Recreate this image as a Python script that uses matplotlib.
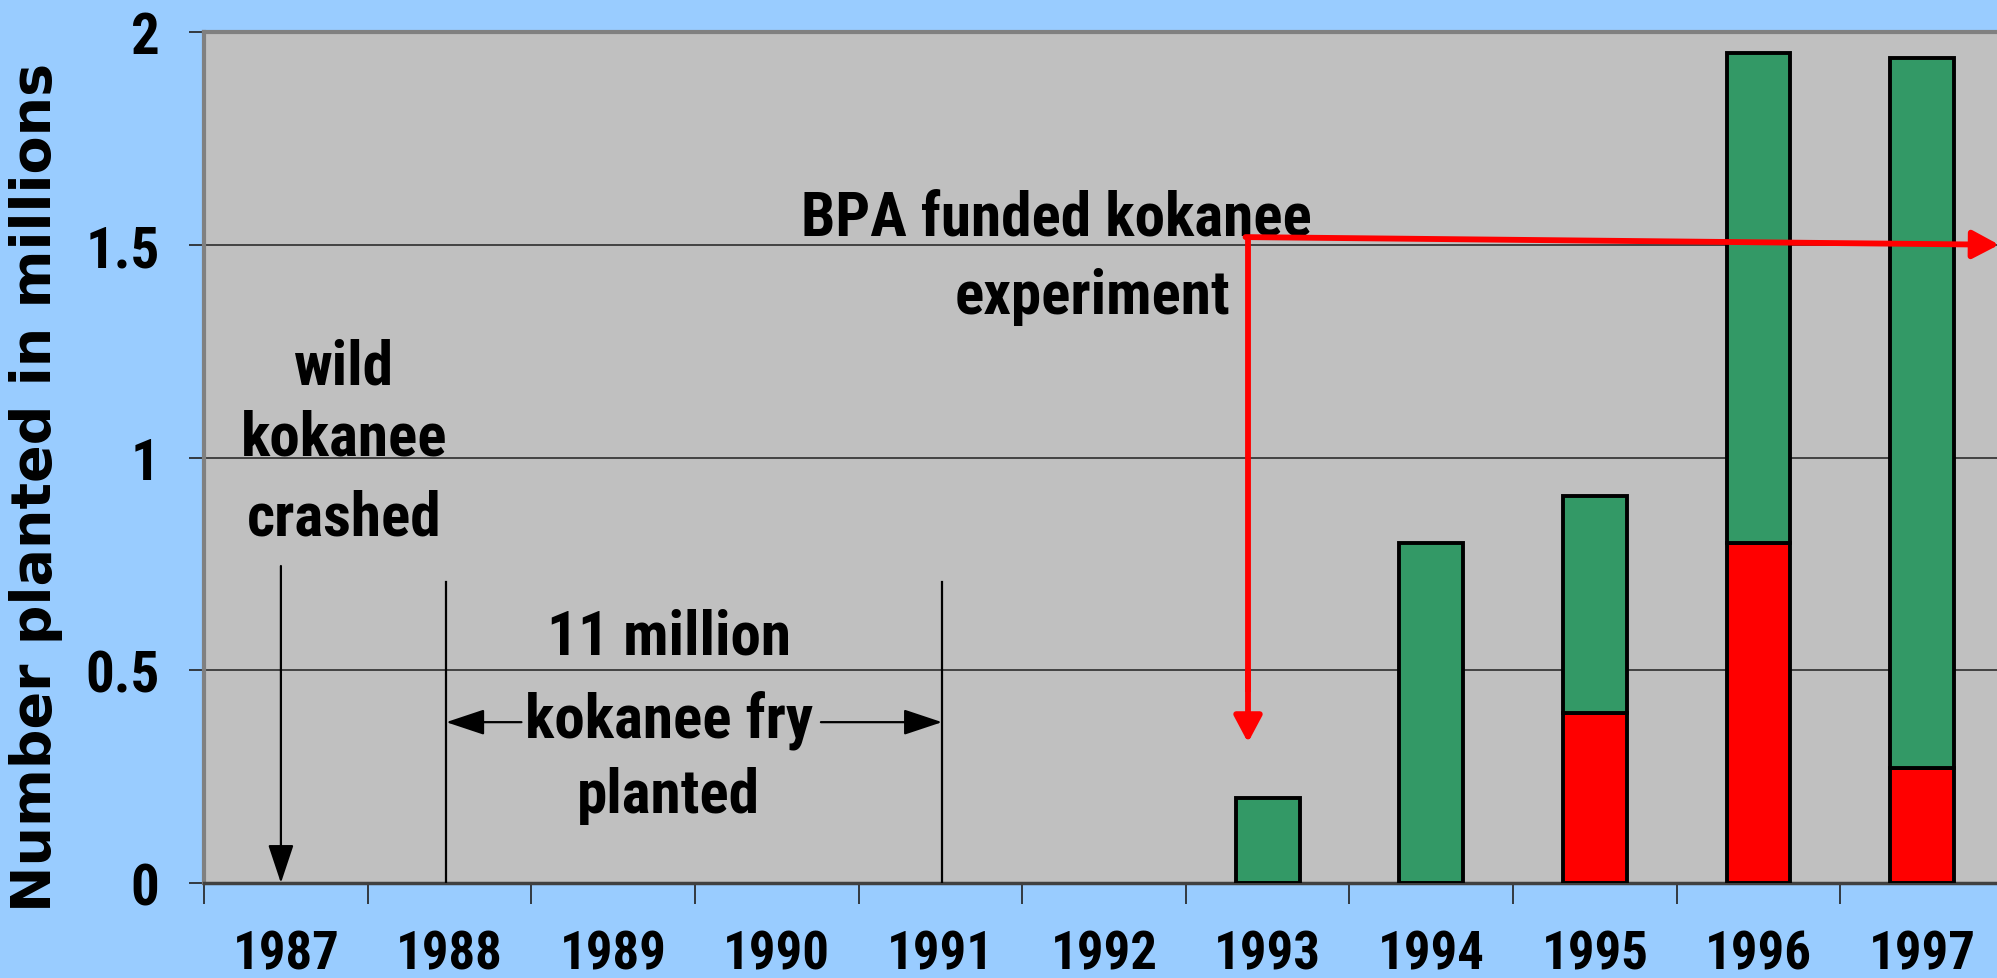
import matplotlib
matplotlib.use("Agg")
import matplotlib.pyplot as plt
import numpy as np

years = ['1987', '1988', '1989', '1990', '1991', '1992', '1993', '1994', '1995', '1996', '1997']
red_vals = [0, 0, 0, 0, 0, 0, 0, 0, 0.40, 0.80, 0.27]
green_vals = [0, 0, 0, 0, 0, 0, 0.20, 0.80, 0.51, 1.15, 1.67]
yticks = [0, 0.5, 1, 1.5, 2]
ytick_labels = ['0', '0.5', '1', '1.5', '2']

NARROW = ['Roboto Condensed', 'PT Sans Narrow', 'Liberation Sans', 'DejaVu Sans']
WIDE = ['DejaVu Sans']

W, H = 1997, 979
fig = plt.figure(figsize=(W / 100, H / 100), dpi=100, facecolor='#99CCFF')
ax = fig.add_axes([204 / W, (979 - 884) / H, 1800 / W, (884 - 33) / H])
ax.set_facecolor('#C0C0C0')

x = np.arange(len(years))
red = np.array(red_vals)
green = np.array(green_vals)
bw = 0.39
mr = red > 0
ax.bar(x[mr], red[mr], width=bw, color='#FF0000', edgecolor='black', linewidth=2.8, zorder=3)
mg = green > 0
ax.bar(x[mg], green[mg], bottom=red[mg], width=bw, color='#339966', edgecolor='black', linewidth=2.8, zorder=3)

ax.set_xlim(-0.5, len(years) - 0.5)
ax.set_ylim(0, 2)

for yv in [0.5, 1, 1.5]:
    ax.axhline(yv, color='#202020', lw=1.1, zorder=1)

for s in ['top', 'left']:
    ax.spines[s].set_color('#808080')
    ax.spines[s].set_linewidth(3)
ax.spines['right'].set_visible(False)
ax.spines['bottom'].set_color('#404040')
ax.spines['bottom'].set_linewidth(2.5)

ax.set_yticks(yticks)
ax.set_yticklabels(ytick_labels, fontfamily=NARROW, fontweight='bold', fontsize=41)
ax.tick_params(axis='y', length=11, width=1.2, pad=21, color='#202020')

ax.set_xticks(np.arange(len(years) + 1) - 0.5)
ax.set_xticklabels([])
ax.set_xticks(x, minor=True)
ax.set_xticklabels(years, minor=True, fontfamily=NARROW, fontweight='bold', fontsize=38)
ax.tick_params(axis='x', which='major', length=15, width=1.2, color='#202020')
ax.tick_params(axis='x', which='minor', length=0, pad=33)

fig.text(36 / W, 1 - 487 / H, 'Number planted in millions', rotation=90, ha='center', va='center',
         fontfamily=WIDE, fontweight='bold', fontsize=40)

tkw = dict(fontfamily=NARROW, fontweight='bold', fontsize=44, ha='center', va='center', zorder=5)
for txt, yy in [('wild', 1.215), ('kokanee', 1.046), ('crashed', 0.86)]:
    ax.text(0.356, yy, txt, **tkw)
for txt, yy in [('11 million', 0.58), ('kokanee fry', 0.385), ('planted', 0.207)]:
    ax.text(2.34, yy, txt, **tkw)
ax.text(4.71, 1.563, 'BPA funded kokanee', **tkw)
ax.text(4.93, 1.38, 'experiment', **tkw)

black = dict(arrowstyle='-|>,head_length=2.4,head_width=0.8', color='black', lw=1.6,
             shrinkA=0, shrinkB=0)
ax.annotate('', xy=(-0.03, 0.0), xytext=(-0.03, 0.745), arrowprops=black, zorder=4)
ax.plot([0.98, 0.98], [0, 0.707], color='black', lw=1.6, zorder=4)
ax.plot([4.01, 4.01], [0, 0.707], color='black', lw=1.6, zorder=4)
ax.annotate('', xy=(0.98, 0.378), xytext=(1.44, 0.378), arrowprops=black, zorder=4)
ax.annotate('', xy=(4.01, 0.378), xytext=(3.27, 0.378), arrowprops=black, zorder=4)

redkw = dict(arrowstyle='-|>,head_length=1.6,head_width=0.85', color='#FF0000', lw=4.2,
             shrinkA=0, shrinkB=0)
ax.plot([5.88, 5.88], [1.518, 0.45], color='#FF0000', lw=4.2, zorder=6, solid_capstyle='butt')
ax.annotate('', xy=(5.88, 0.33), xytext=(5.88, 0.5), arrowprops=redkw, zorder=6)
ax.annotate('', xy=(10.47, 1.50), xytext=(5.865, 1.518), arrowprops=redkw, zorder=6,
            annotation_clip=False)

fig.savefig('out.png', dpi=100, facecolor=fig.get_facecolor())
